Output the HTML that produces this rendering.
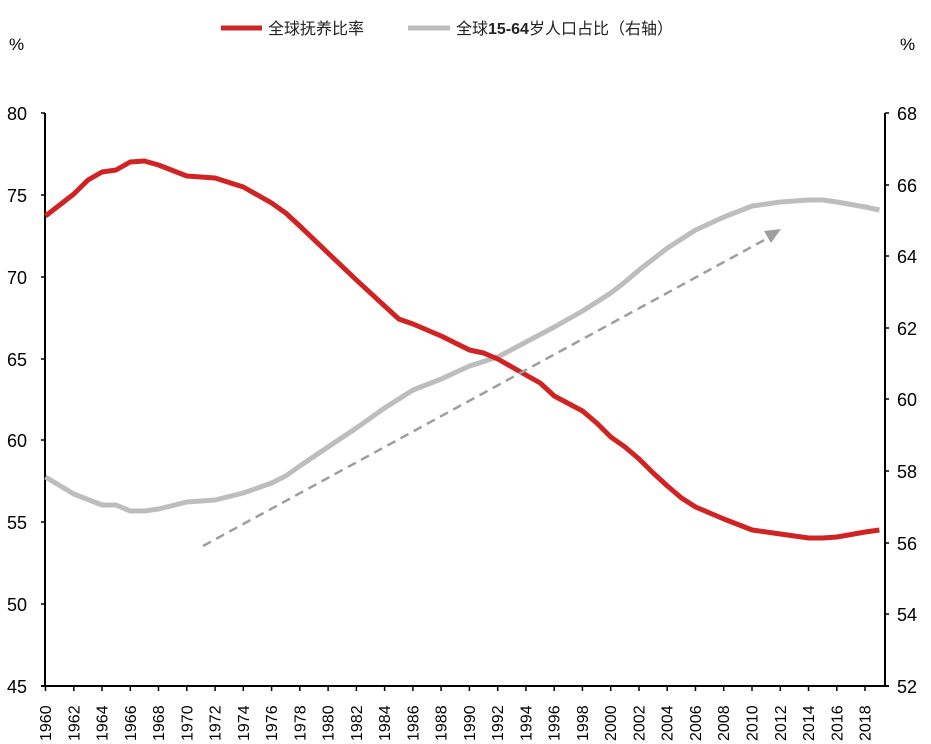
<!DOCTYPE html>
<html><head><meta charset="utf-8"><style>
body{margin:0;background:#fff;}
svg{display:block;font-family:"Liberation Sans","Noto Sans CJK SC",sans-serif;}
</style></head><body>
<svg width="931" height="744" viewBox="0 0 931 744" xmlns="http://www.w3.org/2000/svg">
<line x1="221" y1="28" x2="262" y2="28" stroke="#d02424" stroke-width="5"/>
<text x="268" y="34" font-size="16" fill="#222">全球抚养比率</text>
<line x1="408" y1="28" x2="450" y2="28" stroke="#bdbdbd" stroke-width="5"/>
<text x="456" y="34" font-size="16" fill="#222">全球<tspan font-weight="bold">15-64</tspan>岁人口占比（右轴）</text>
<text x="9" y="50" font-size="17" fill="#000">%</text>
<text x="900" y="50" font-size="17" fill="#000">%</text>
<g stroke="#000" stroke-width="2" fill="none">
<line x1="45" y1="113" x2="45" y2="686"/>
<line x1="885" y1="113" x2="885" y2="686"/>
<line x1="41" y1="686" x2="889" y2="686"/>
</g>
<g stroke="#000" stroke-width="1.5">
<line x1="41" y1="113" x2="45" y2="113"/><line x1="41" y1="195" x2="45" y2="195"/>
<line x1="41" y1="277" x2="45" y2="277"/><line x1="41" y1="359" x2="45" y2="359"/>
<line x1="41" y1="440" x2="45" y2="440"/><line x1="41" y1="522" x2="45" y2="522"/>
<line x1="41" y1="604" x2="45" y2="604"/>
<line x1="885" y1="113" x2="889" y2="113"/><line x1="885" y1="185" x2="889" y2="185"/>
<line x1="885" y1="256" x2="889" y2="256"/><line x1="885" y1="328" x2="889" y2="328"/>
<line x1="885" y1="399" x2="889" y2="399"/><line x1="885" y1="471" x2="889" y2="471"/>
<line x1="885" y1="543" x2="889" y2="543"/><line x1="885" y1="614" x2="889" y2="614"/>
</g>
<g font-size="18" fill="#000" text-anchor="end">
<text x="27" y="120">80</text><text x="27" y="202">75</text><text x="27" y="284">70</text>
<text x="27" y="366">65</text><text x="27" y="447">60</text><text x="27" y="529">55</text>
<text x="27" y="611">50</text><text x="27" y="693">45</text>
</g>
<g font-size="18" fill="#000">
<text x="897" y="120">68</text><text x="897" y="192">66</text><text x="897" y="263">64</text>
<text x="897" y="335">62</text><text x="897" y="406">60</text><text x="897" y="478">58</text>
<text x="897" y="550">56</text><text x="897" y="621">54</text><text x="897" y="693">52</text>
</g>
<g stroke="#000" stroke-width="1.5">
<line x1="45.5" y1="686" x2="45.5" y2="691"/><line x1="73.8" y1="686" x2="73.8" y2="691"/><line x1="102" y1="686" x2="102" y2="691"/><line x1="130.3" y1="686" x2="130.3" y2="691"/><line x1="158.5" y1="686" x2="158.5" y2="691"/><line x1="186.8" y1="686" x2="186.8" y2="691"/><line x1="215.1" y1="686" x2="215.1" y2="691"/><line x1="243.3" y1="686" x2="243.3" y2="691"/><line x1="271.6" y1="686" x2="271.6" y2="691"/><line x1="299.8" y1="686" x2="299.8" y2="691"/><line x1="328.1" y1="686" x2="328.1" y2="691"/><line x1="356.4" y1="686" x2="356.4" y2="691"/><line x1="384.6" y1="686" x2="384.6" y2="691"/><line x1="412.9" y1="686" x2="412.9" y2="691"/><line x1="441.1" y1="686" x2="441.1" y2="691"/><line x1="469.4" y1="686" x2="469.4" y2="691"/><line x1="497.7" y1="686" x2="497.7" y2="691"/><line x1="525.9" y1="686" x2="525.9" y2="691"/><line x1="554.2" y1="686" x2="554.2" y2="691"/><line x1="582.4" y1="686" x2="582.4" y2="691"/><line x1="610.7" y1="686" x2="610.7" y2="691"/><line x1="639" y1="686" x2="639" y2="691"/><line x1="667.2" y1="686" x2="667.2" y2="691"/><line x1="695.5" y1="686" x2="695.5" y2="691"/><line x1="723.7" y1="686" x2="723.7" y2="691"/><line x1="752" y1="686" x2="752" y2="691"/><line x1="780.3" y1="686" x2="780.3" y2="691"/><line x1="808.5" y1="686" x2="808.5" y2="691"/><line x1="836.8" y1="686" x2="836.8" y2="691"/><line x1="865" y1="686" x2="865" y2="691"/>
</g>
<g font-size="16" fill="#000">
<text transform="translate(51,741) rotate(-90)">1960</text>
<text transform="translate(79.3,741) rotate(-90)">1962</text>
<text transform="translate(107.5,741) rotate(-90)">1964</text>
<text transform="translate(135.8,741) rotate(-90)">1966</text>
<text transform="translate(164,741) rotate(-90)">1968</text>
<text transform="translate(192.3,741) rotate(-90)">1970</text>
<text transform="translate(220.6,741) rotate(-90)">1972</text>
<text transform="translate(248.8,741) rotate(-90)">1974</text>
<text transform="translate(277.1,741) rotate(-90)">1976</text>
<text transform="translate(305.3,741) rotate(-90)">1978</text>
<text transform="translate(333.6,741) rotate(-90)">1980</text>
<text transform="translate(361.9,741) rotate(-90)">1982</text>
<text transform="translate(390.1,741) rotate(-90)">1984</text>
<text transform="translate(418.4,741) rotate(-90)">1986</text>
<text transform="translate(446.6,741) rotate(-90)">1988</text>
<text transform="translate(474.9,741) rotate(-90)">1990</text>
<text transform="translate(503.2,741) rotate(-90)">1992</text>
<text transform="translate(531.4,741) rotate(-90)">1994</text>
<text transform="translate(559.7,741) rotate(-90)">1996</text>
<text transform="translate(587.9,741) rotate(-90)">1998</text>
<text transform="translate(616.2,741) rotate(-90)">2000</text>
<text transform="translate(644.5,741) rotate(-90)">2002</text>
<text transform="translate(672.7,741) rotate(-90)">2004</text>
<text transform="translate(701,741) rotate(-90)">2006</text>
<text transform="translate(729.2,741) rotate(-90)">2008</text>
<text transform="translate(757.5,741) rotate(-90)">2010</text>
<text transform="translate(785.8,741) rotate(-90)">2012</text>
<text transform="translate(814,741) rotate(-90)">2014</text>
<text transform="translate(842.3,741) rotate(-90)">2016</text>
<text transform="translate(870.5,741) rotate(-90)">2018</text>
</g>
<polyline fill="none" stroke="#bdbdbd" stroke-width="5" stroke-linejoin="round" points="45.5,477 73.8,494 102,505 116,505 130.2,511 144.4,511 158.5,509 186.8,502 215,500 243.3,493 271.6,483 285.7,476 299.8,466 328,447 356.4,428 384.6,408 398.8,399 413,390 441.2,379 469.5,366 497.8,357 526,342 554.3,327 582.6,311 610.8,293 625,282 639.1,270 667.4,248 695.6,230 723.9,217 752.2,206 780.4,202 808.7,200 822.8,200 837,202 865.2,207 879.4,210"/>
<polyline fill="none" stroke="#d02424" stroke-width="5" stroke-linejoin="round" points="45.5,216 73.8,194 88,180 102,172 116,170 130.2,162 144.4,161 158.5,165 186.8,176 215,178 243.3,187 271.6,203 285.7,213 299.8,226 328,253 356.4,280 384.6,306 398.8,319 413,324 441.2,336 469.5,350 483.6,353 497.8,359 526,375 540.2,383 554.3,396 582.6,411 596.7,423 610.8,437 625,447 639.1,459 653.2,473 667.4,486 681.5,498 695.6,507 723.9,519 752.2,530 780.4,534 808.7,538 822.8,538 837,537 865.2,532 879.4,530"/>
<line x1="203" y1="546" x2="768" y2="238" stroke="#9e9e9e" stroke-width="2.5" stroke-dasharray="9,6"/>
<polygon points="781,229 764,231 771,243" fill="#9e9e9e"/>
</svg>
</body></html>
